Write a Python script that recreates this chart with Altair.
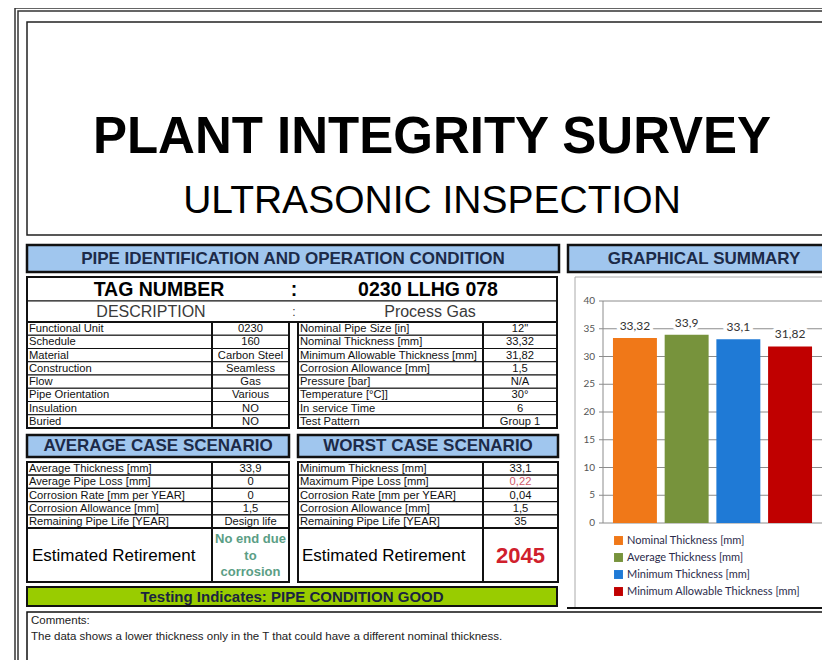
import altair as alt
import pandas as pd

# ---------------- data ----------------
title_main = "PLANT INTEGRITY SURVEY"
title_sub = "ULTRASONIC INSPECTION"
section_pipe = "PIPE IDENTIFICATION AND OPERATION CONDITION"
section_graph = "GRAPHICAL SUMMARY"
tag_label = "TAG NUMBER"
tag_value = "0230 LLHG 078"
desc_label = "DESCRIPTION"
desc_value = "Process Gas"

ident_labels = ["Functional Unit", "Schedule", "Material", "Construction", "Flow",
                "Pipe Orientation", "Insulation", "Buried"]
ident_values = ["0230", "160", "Carbon Steel", "Seamless", "Gas", "Various", "NO", "NO"]

oper_labels = ["Nominal Pipe Size [in]", "Nominal Thickness [mm]", "Minimum Allowable Thickness [mm]",
               "Corrosion Allowance [mm]", "Pressure [bar]", "Temperature [°C]]", "In service Time",
               "Test Pattern"]
oper_values = ['12"', "33,32", "31,82", "1,5", "N/A", "30°", "6", "Group 1"]

avg_title = "AVERAGE CASE SCENARIO"
avg_labels = ["Average Thickness [mm]", "Average Pipe Loss [mm]", "Corrosion Rate [mm per YEAR]",
              "Corrosion Allowance [mm]", "Remaining Pipe Life [YEAR]"]
avg_values = ["33,9", "0", "0", "1,5", "Design life"]
avg_retirement = ["No end due", "to", "corrosion"]

worst_title = "WORST CASE SCENARIO"
worst_labels = ["Minimum Thickness [mm]", "Maximum Pipe Loss [mm]", "Corrosion Rate [mm per YEAR]",
                "Corrosion Allowance [mm]", "Remaining Pipe Life [YEAR]"]
worst_values = ["33,1", "0,22", "0,04", "1,5", "35"]
worst_retirement = "2045"
retire_label = "Estimated Retirement"

status_text = "Testing Indicates: PIPE CONDITION GOOD"
comment_head = "Comments:"
comment_body = "The data shows a lower thickness only in the T that could have a different nominal thickness."

series_names = ["Nominal Thickness [mm]", "Average Thickness [mm]", "Minimum Thickness [mm]",
                "Minimum Allowable Thickness [mm]"]
series_values = [33.32, 33.9, 33.1, 31.82]
series_labels = ["33,32", "33,9", "33,1", "31,82"]
series_colors = ["#f07818", "#77933c", "#1f7ad6", "#c00000"]
y_ticks = [0, 5, 10, 15, 20, 25, 30, 35, 40]

# ---------------- layout ----------------
W, H = 814, 652
O = 8
XS = alt.Scale(domain=[O, O + W], range=[0, W], nice=False, zero=False)
YS = alt.Scale(domain=[O, O + H], range=[0, H], nice=False, zero=False)

BLUE = "#a0c6ee"
NAVY = "#1c2a48"
FONT = "Liberation Sans"

rects = []
texts = []


def box(x1, y1, x2, y2, fill="transparent", stroke="#111111", sw=1.0):
    rects.append(dict(x1=x1, y1=y1, x2=x2, y2=y2, fill=fill, stroke=stroke, sw=sw))


def txt(x, y, s, size, color="#000000", weight="normal", align="center", font=FONT):
    texts.append(dict(x=x, y=y, text=s, size=size, color=color, weight=weight, align=align, font=font))


# frame + title
box(15, 8, 860, 700, stroke="#333333", sw=1.5)
box(18, 11, 860, 700, stroke="#333333", sw=1.5)
box(27, 22, 860, 235, fill="white", stroke="#222222", sw=1.5)
txt(432, 138, title_main, 51, weight="bold")
txt(432, 201, title_sub, 39)

# section headers
box(27, 245, 559, 272, fill=BLUE, stroke="#111111", sw=2.5)
txt(293, 259, section_pipe, 17, color=NAVY, weight="bold")
box(568, 245, 860, 272, fill=BLUE, stroke="#111111", sw=2.5)
txt(704, 259, section_graph, 17, color=NAVY, weight="bold")

# tag / description
box(27, 277, 557, 301, fill="white", stroke="#111111", sw=1)
box(27, 301, 557, 322, fill="white", stroke="#111111", sw=1)
box(27, 277, 557, 322, stroke="#111111", sw=2)
txt(159, 290, tag_label, 19.5, weight="bold")
txt(294, 290, ":", 19.5, weight="bold")
txt(428, 290, tag_value, 19.5, weight="bold")
txt(151, 312, desc_label, 16, color="#3a3a3a")
txt(294, 312, ":", 12, color="#3a3a3a")
txt(430, 312, desc_value, 16, color="#3a3a3a")


def table(x0, xm, x1, ytop, rh, labels, values, value_colors=None):
    n = len(labels)
    for i, (lab, val) in enumerate(zip(labels, values)):
        ya = ytop + i * rh
        yb = ya + rh
        box(x0, ya, xm, yb, fill="white", sw=1.2)
        box(xm, ya, x1, yb, fill="white", sw=1.2)
        txt(x0 + 2, (ya + yb) / 2 + 0.5, lab, 11.2, color="#111111", align="left")
        col = value_colors[i] if value_colors else "#111111"
        txt((xm + x1) / 2, (ya + yb) / 2 + 0.5, val, 11.2, color=col)
    box(x0, ytop, x1, ytop + n * rh, sw=2)
    box(xm, ytop, x1, ytop + n * rh, sw=2)


table(27, 212, 289, 322, 13.25, ident_labels, ident_values)
table(298, 483, 557, 322, 13.25, oper_labels, oper_values)

# scenario headers
box(27, 435, 289, 457, fill=BLUE, stroke="#111111", sw=2.5)
txt(158, 446, avg_title, 17, color=NAVY, weight="bold")
box(298, 435, 558, 457, fill=BLUE, stroke="#111111", sw=2.5)
txt(428, 446, worst_title, 17, color=NAVY, weight="bold")

table(27, 212, 289, 462, 13.2, avg_labels, avg_values)
table(298, 483, 558, 462, 13.2, worst_labels, worst_values,
      ["#111111", "#d05a6a", "#111111", "#111111", "#111111"])

# retirement blocks
box(27, 528, 212, 582, fill="white", sw=2)
box(212, 528, 289, 582, fill="white", sw=2)
txt(32, 556, retire_label, 17, align="left")
for k, line in enumerate(avg_retirement):
    txt(250.5, 539 + k * 16.5, line, 13, color="#5b9e85", weight="bold")
box(298, 528, 483, 582, fill="white", sw=2)
box(483, 528, 558, 582, fill="white", sw=2)
txt(302, 556, retire_label, 17, align="left")
txt(520.5, 556, worst_retirement, 22, color="#d0202c", weight="bold")

# status bar
box(27, 587, 557, 606, fill="#99cc00", stroke="#111111", sw=2)
txt(292, 597, status_text, 15, color="#1a2440", weight="bold")

# comments
box(27, 612, 860, 700, fill="white", stroke="#111111", sw=1.5)
txt(31, 621, comment_head, 11.5, color="#222222", align="left")
txt(31, 637, comment_body, 11.5, color="#222222", align="left")

# chart frame
box(575, 277, 860, 608, stroke="#aaaaaa", sw=1)
box(568, 608, 860, 608.1, stroke="#111111", sw=2)

rect_df = pd.DataFrame(rects)
rect_layer = alt.Chart(rect_df).mark_rect().encode(
    x=alt.X("x1:Q", scale=XS, axis=None), x2="x2:Q",
    y=alt.Y("y1:Q", scale=YS, axis=None), y2="y2:Q",
    fill=alt.Fill("fill:N", scale=None),
    stroke=alt.Stroke("stroke:N", scale=None),
    strokeWidth=alt.StrokeWidth("sw:Q", scale=None),
)

text_df = pd.DataFrame(texts)
text_layers = []
for (w, a, f), g in text_df.groupby(["weight", "align", "font"]):
    text_layers.append(
        alt.Chart(g).mark_text(fontWeight=w, align=a, baseline="middle", font=f).encode(
            x=alt.X("x:Q", scale=XS, axis=None),
            y=alt.Y("y:Q", scale=YS, axis=None),
            text="text:N",
            size=alt.Size("size:Q", scale=None),
            color=alt.Color("color:N", scale=None),
        )
    )

layout = alt.layer(rect_layer, *text_layers)

# ---------------- bar chart ----------------
bdf = pd.DataFrame({"series": series_names, "value": series_values, "label": series_labels})
tdf = pd.DataFrame({"tick": y_ticks})
BX = alt.Scale(domain=series_names, range=[605 - O, 820 - O], paddingInner=0.15, paddingOuter=0.154)
BY = alt.Scale(domain=[0, 40], range=[523 - O, 301 - O], nice=False, zero=True)

grid = alt.Chart(tdf).mark_rule(color="#8c8c8c", strokeWidth=1).encode(
    y=alt.Y("tick:Q", scale=BY, axis=None), x=alt.value(599 - O), x2=alt.value(840 - O))
axis_line = alt.Chart(pd.DataFrame({"lo": [0], "hi": [40]})).mark_rule(color="#8c8c8c").encode(
    x=alt.value(603 - O), y=alt.Y("lo:Q", scale=BY, axis=None), y2="hi:Q")
tick_labels = alt.Chart(tdf).mark_text(align="right", baseline="middle", font="Lato", fontSize=10,
                                       color="#555555").encode(
    y=alt.Y("tick:Q", scale=BY, axis=None), x=alt.value(595 - O), text="tick:Q")
bars = alt.Chart(bdf).mark_bar().encode(
    x=alt.X("series:N", scale=BX, axis=None, sort=series_names),
    y=alt.Y("value:Q", scale=BY, axis=None),
    color=alt.Color("series:N", sort=series_names,
                    scale=alt.Scale(domain=series_names, range=series_colors),
                    legend=alt.Legend(orient="none", legendX=613 - O, legendY=535 - O, title=None,
                                      symbolType="square", symbolSize=80, symbolStrokeWidth=0,
                                      labelFont="Lato", labelFontSize=11, labelColor="#2b2b4b",
                                      labelOffset=3, rowPadding=5, padding=0, labelLimit=300)),
)
halo = alt.Chart(bdf).mark_text(baseline="bottom", dy=-5, font="Lato", fontSize=12, color="white",
                                stroke="white", strokeWidth=7).encode(
    x=alt.X("series:N", scale=BX, axis=None, sort=series_names),
    y=alt.Y("value:Q", scale=BY, axis=None), text="label:N")
vals = alt.Chart(bdf).mark_text(baseline="bottom", dy=-5, font="Lato", fontSize=12,
                                color="#333333").encode(
    x=alt.X("series:N", scale=BX, axis=None, sort=series_names),
    y=alt.Y("value:Q", scale=BY, axis=None), text="label:N")

bar_part = alt.layer(grid, axis_line, tick_labels, bars, halo, vals)

chart = alt.layer(layout, bar_part).resolve_scale(
    x="independent", y="independent", color="independent"
).properties(
    width=W, height=H, autosize=alt.AutoSizeParams(type="none"), padding=0
).configure_view(strokeWidth=0)

chart.save("out.html", embed_options={"renderer": "svg", "actions": False})
